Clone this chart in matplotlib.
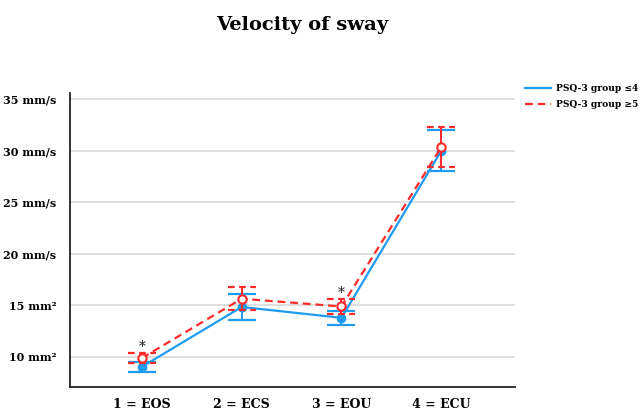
import matplotlib
matplotlib.use("Agg")
import matplotlib.pyplot as plt
import numpy as np
from matplotlib.lines import Line2D

categories = ["1 = EOS", "2 = ECS", "3 = EOU", "4 = ECU"]
blue_vals = [9.05, 14.85, 13.8, 30.0]
blue_err = [0.5, 1.3, 0.7, 2.0]
red_vals = [9.9, 15.65, 14.9, 30.35]
red_err = [0.48, 1.1, 0.75, 1.95]
ytick_vals = [10, 15, 20, 25, 30, 35]
ytick_labels = ["10 mm²", "15 mm²", "20 mm/s", "25 mm/s", "30 mm/s", "35 mm/s"]
sig_idx = [0, 2]
series_names = ["PSQ-3 group ≤4", "PSQ-3 group ≥5"]

BLUE = "#1f9bf2"
RED = "#ff2a2a"
FONT = "DejaVu Serif"

fig = plt.figure(figsize=(6.43, 4.12), dpi=100)
ax = fig.add_axes([0.109, 0.061, 0.692, 0.713])

x = np.arange(1, len(categories) + 1)

ax.errorbar(x, blue_vals, yerr=blue_err, color=BLUE, lw=1.6, marker="o", ms=6,
            mfc=BLUE, mec=BLUE, capsize=10, capthick=1.6, elinewidth=1.4,
            label=series_names[0], zorder=3)
ax.errorbar(x, red_vals, yerr=red_err, color=RED, lw=1.6, ls=(0, (3.5, 2.2)), marker="o", ms=6,
            mfc="white", mec=RED, mew=1.5, capsize=0, elinewidth=1.4,
            label=series_names[1], zorder=4)
rv = np.array(red_vals)
re = np.array(red_err)
ax.hlines(np.concatenate([rv + re, rv - re]), np.concatenate([x, x]) - 0.14,
          np.concatenate([x, x]) + 0.14, colors=RED, linestyles=(0, (3, 2)),
          lw=1.6, zorder=5)

for i in sig_idx:
    ax.text(x[i], red_vals[i] + red_err[i] + 0.55, "*", ha="center", va="center",
            fontsize=10, family=FONT, color="#222222")

ax.set_xlim(0.28, 4.74)
ax.set_ylim(7.1, 35.6)
ax.set_yticks(ytick_vals)
ax.set_yticklabels(ytick_labels, fontsize=8, fontweight="bold", family=FONT)
ax.set_xticks(x)
ax.set_xticklabels(categories, fontsize=9, fontweight="bold", family=FONT)
ax.tick_params(axis="y", length=0, pad=10)
ax.tick_params(axis="x", length=0, pad=8)
ax.yaxis.grid(True, color="#d9d9d9", lw=1.2)
ax.set_axisbelow(True)
for s in ["top", "right"]:
    ax.spines[s].set_visible(False)
for s in ["left", "bottom"]:
    ax.spines[s].set_color("#222222")
    ax.spines[s].set_linewidth(1.3)

fig.text(0.47, 0.94, "Velocity of sway", ha="center", va="center",
         fontsize=14, fontweight="bold", family=FONT)

handles = [Line2D([], [], color=BLUE, lw=1.6), Line2D([], [], color=RED, lw=1.6, ls=(0, (3.5, 2.2)))]
fig.legend(handles, series_names, loc="upper left", bbox_to_anchor=(0.808, 0.81),
           frameon=False, prop={"family": FONT, "weight": "bold", "size": 6.6},
           handlelength=2.8, handletextpad=0.6, labelspacing=0.8, borderaxespad=0.2)

fig.savefig("out.png", dpi=100)
